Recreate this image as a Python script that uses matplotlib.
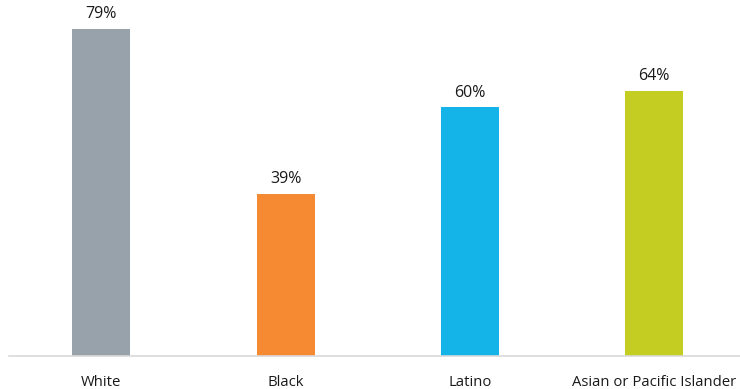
import matplotlib
matplotlib.use("Agg")
import matplotlib.pyplot as plt

categories = ["White", "Black", "Latino", "Asian or Pacific Islander"]
values = [79, 39, 60, 64]
colors = ["#98A2AA", "#F58A33", "#14B4E8", "#C4CE22"]

plt.rcParams['font.family'] = ['Open Sans', 'DejaVu Sans']

W, H = 740, 389
fig = plt.figure(figsize=(W/100, H/100), dpi=100)
bottom_px = 355.5
ax = fig.add_axes([9/W, (H-bottom_px)/H, 1 - 9/W, bottom_px/H])

x = list(range(len(categories)))
bars = ax.bar(x, values, width=0.315, color=colors)
for xi, v in zip(x, values):
    ax.annotate(f"{v}%", (xi, v), xytext=(0, 5), textcoords="offset points",
                ha="center", va="bottom", fontsize=11.5, color="#1a1a1a")

ax.set_xlim(-0.5, 3.465)
ax.set_ylim(0, 86.0)
ax.set_xticks(x)
ax.set_xticklabels(categories, fontsize=10.7, color="#1a1a1a")
ax.tick_params(axis="x", length=0, pad=14)
ax.set_yticks([])
for s in ["top", "right", "left"]:
    ax.spines[s].set_visible(False)
ax.spines["bottom"].set_color("#D9D9D9")
ax.spines["bottom"].set_linewidth(1.2)

fig.savefig("out.png", dpi=100)
